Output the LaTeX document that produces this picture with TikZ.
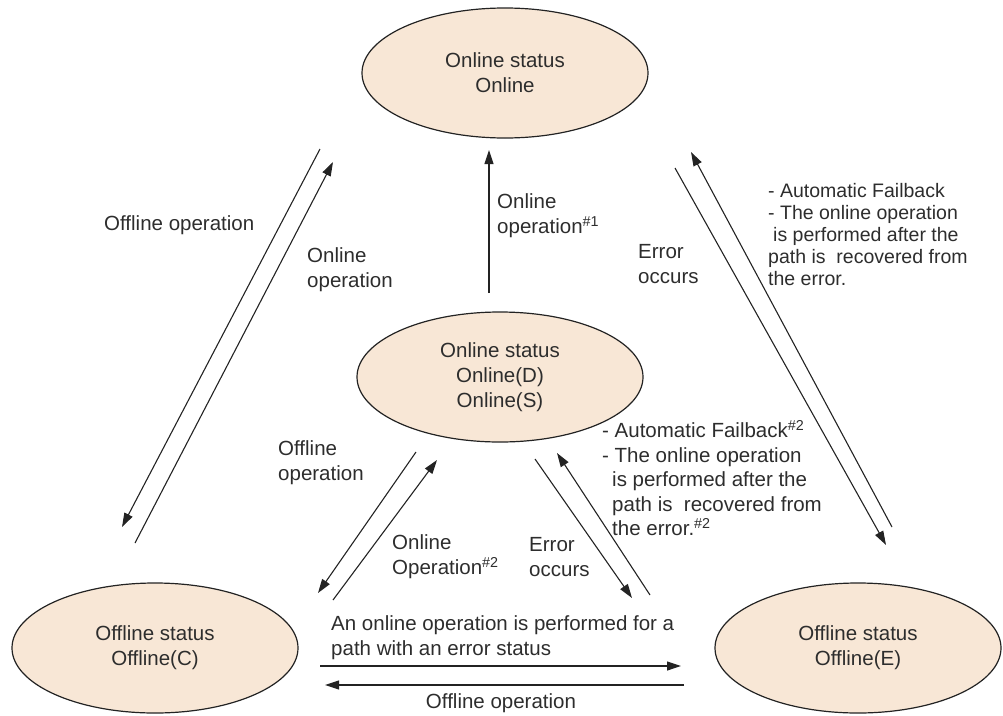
\documentclass[tikz,border=0pt]{standalone}
\usepackage{fontspec}
\setmainfont{Liberation Sans}
\usetikzlibrary{arrows.meta,shapes.geometric}
\definecolor{fillc}{RGB}{248,231,214}
\definecolor{linec}{RGB}{35,35,35}
\definecolor{txtc}{RGB}{45,45,45}
\begin{document}
\begin{tikzpicture}[x=1pt,y=-1pt,
  state/.style={ellipse, draw=linec, fill=fillc, line width=1.2pt, minimum width=286pt, minimum height=130pt, inner sep=0pt, align=center, text=txtc, font=\fontsize{20.5}{25}\selectfont},
  arr/.style={draw=linec, line width=1.1pt, -{Triangle[length=14pt,width=9pt]}},
  lbl/.style={text=txtc, font=\fontsize{20.5}{25}\selectfont, align=left, inner sep=0pt},
  blk/.style={text=txtc, font=\fontsize{19.5}{22}\selectfont, align=left, inner sep=0pt},
  blkb/.style={text=txtc, font=\fontsize{20.5}{24.5}\selectfont, align=left, inner sep=0pt},
]
\useasboundingbox (0,0) rectangle (1003,715);

% states
\node[state] (top) at (505,73) {Online status\\Online};
\node[state] (mid) at (500,377) {Online status\\Online(D)\\Online(S)};
\node[state] (offc) at (155,648) {Offline status\\Offline(C)};
\node[state] (offe) at (858,648) {Offline status\\Offline(E)};

% arrow end points
\coordinate (v1) at (489,293);   \coordinate (v2) at (489,150);
\coordinate (l1a) at (320,149);  \coordinate (l1b) at (122,527);
\coordinate (l2a) at (135,543);  \coordinate (l2b) at (333,162);
\coordinate (r1a) at (675,168);  \coordinate (r1b) at (886,545);
\coordinate (r2a) at (892,527);  \coordinate (r2b) at (691,152);
\coordinate (ml1a) at (416,452); \coordinate (ml1b) at (318,593);
\coordinate (ml2a) at (333,600); \coordinate (ml2b) at (437,460);
\coordinate (mr1a) at (535,459); \coordinate (mr1b) at (632,598);
\coordinate (mr2a) at (650,595); \coordinate (mr2b) at (557,453);
\coordinate (h1a) at (320,666);  \coordinate (h1b) at (681,666);
\coordinate (h2a) at (684,685);  \coordinate (h2b) at (325,685);

\draw[arr] (v1) -- (v2);
\draw[arr] (l1a) -- (l1b);
\draw[arr] (l2a) -- (l2b);
\draw[arr] (r1a) -- (r1b);
\draw[arr] (r2a) -- (r2b);
\draw[arr] (ml1a) -- (ml1b);
\draw[arr] (ml2a) -- (ml2b);
\draw[arr] (mr1a) -- (mr1b);
\draw[arr] (mr2a) -- (mr2b);
\draw[arr] (h1a) -- (h1b);
\draw[arr] (h2a) -- (h2b);

% labels
\node[lbl, anchor=west] (t1) at (104,225) {Offline operation};
\node[lbl, anchor=west] (t2) at (307,270) {Online\\operation};
\node[lbl, anchor=west] (t3) at (497,216) {Online\\operation\textsuperscript{\#1}};
\node[lbl, anchor=west] (t4) at (638,264) {Error\\occurs};
\node[blk, anchor=west] (t5) at (768,235) {- Automatic Failback\\- The online operation\\\hspace*{5pt}is performed after the\\path is\ \ recovered from\\the error.};
\node[lbl, anchor=west] (t6) at (278,463) {Offline\\operation};
\node[lbl, anchor=west] (t7) at (392,557) {Online\\Operation\textsuperscript{\#2}};
\node[lbl, anchor=west] (t8) at (529,557) {Error\\occurs};
\node[blkb, anchor=west] (t9) at (602,478) {- Automatic Failback\textsuperscript{\#2}\\- The online operation\\\hspace*{10pt}is performed after the\\\hspace*{10pt}path is\ \ recovered from\\\hspace*{10pt}the error.\textsuperscript{\#2}};
\node[lbl, anchor=west] (t10) at (331,638) {An online operation is performed for a\\path with an error status};
\node[lbl] (t11) at (501,703) {Offline operation};
\end{tikzpicture}
\end{document}
